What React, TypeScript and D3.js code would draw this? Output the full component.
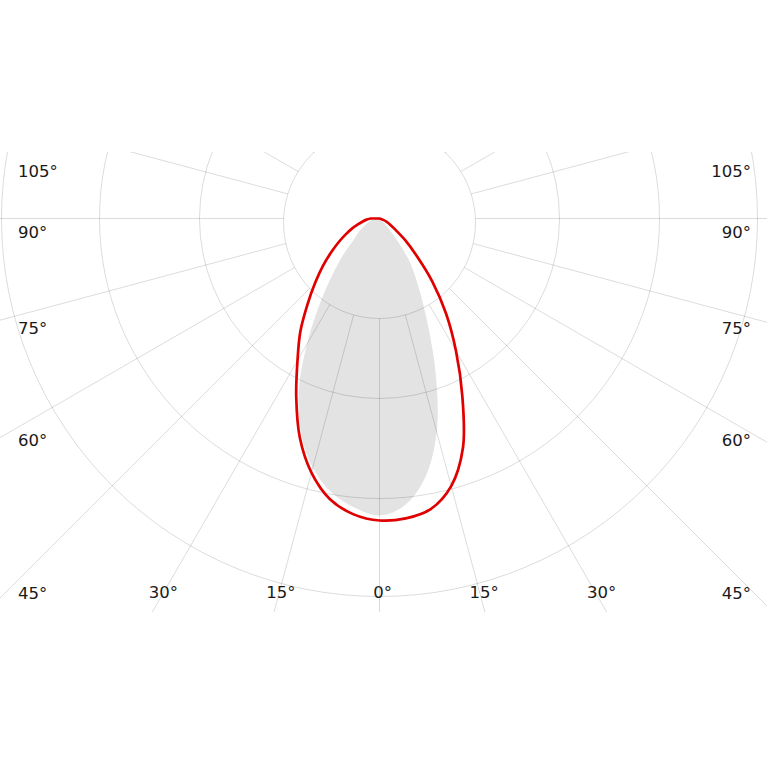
import React from "react";
import * as d3 from "d3";

// Red curve (C90/C270 plane): angle from nadir in degrees (negative = left), intensity
const redAngles = [-90, -85, -80, -75, -70, -65, -60, -55, -50, -45, -40, -35, -30, -25, -20, -15, -10, -5, 0, 5, 10, 15, 20, 25, 30, 35, 40, 45, 50, 55, 60, 65, 70, 75];
const redValues = [9, 13, 17, 22, 29, 37, 47, 59, 74, 91, 112, 138, 164, 197, 233, 263, 285, 297, 302, 301, 295, 277, 244, 196, 153, 116, 82, 52, 33, 19, 12, 8, 4, 0];

// Gray filled curve (C0/C180 plane)
const grayAngles = [-80, -75, -70, -65, -60, -55, -50, -45, -40, -35, -30, -25, -20, -15, -10, -5, 0, 5, 10, 15, 20, 25, 30, 35, 40, 45, 50];
const grayValues = [8, 10, 13, 16, 21, 27, 34, 51, 73, 104, 145, 191, 229, 258, 278, 290, 297, 288, 263, 221, 164, 112, 77, 52, 22, 6, 0];

// Grid
const ringValues = [96, 180, 280, 378];
const spokeAngles = [0, 15, 30, 45, 60, 75, 90, 105, 120, 135, 150, 165, 180, 195, 210, 225, 240, 255, 270, 285, 300, 315, 330, 345];
const sideLabelAngles = [105, 90, 75, 60, 45];
const bottomLabelAngles = [-30, -15, 0, 15, 30];

const W = 767;
const H = 767;
const CX = 379.5;
const CY = 218.5;
const INNER_OFFSET = 4;
const CLIP_TOP = 152;
const CLIP_BOTTOM = 612;

export default function App() {
  const rScale = d3.scaleLinear().domain([0, 380]).range([0, 380]);
  const toRad = (deg: number) => Math.PI - (deg * Math.PI) / 180;

  const red = redAngles.map((a, i) => [toRad(a), rScale(redValues[i])] as [number, number]);
  const gray = grayAngles.map((a, i) => [toRad(a), rScale(grayValues[i])] as [number, number]);

  const radial = d3
    .lineRadial<[number, number]>()
    .angle((d) => d[0])
    .radius((d) => d[1])
    .curve(d3.curveCatmullRom.alpha(0.5));

  const redPath = radial(red) + "Z";
  const grayPath = radial(gray) + "Z";

  const innerR = rScale(ringValues[0]);
  const spokes = spokeAngles.map((deg) => {
    const t = (deg * Math.PI) / 180;
    const ux = Math.sin(t);
    const uy = Math.cos(t);
    const wy = -INNER_OFFSET;
    const b = uy * wy;
    const start = -b + Math.sqrt(b * b - wy * wy + innerR * innerR);
    const end = 1400;
    return {
      x1: CX + ux * start,
      y1: CY + uy * start,
      x2: CX + ux * end,
      y2: CY + uy * end,
    };
  });

  const gridStroke = { stroke: "#000", strokeOpacity: 0.14, strokeWidth: 1, fill: "none" };
  const labelStyle: React.CSSProperties = {
    fontFamily: "'DejaVu Sans', Verdana, sans-serif",
    fontSize: 16.5,
    fill: "#1a1a1a",
  };

  const sideY = (deg: number) => {
    const t = (deg * Math.PI) / 180;
    const y = CY + (CX - 18) / Math.tan(t) + 19;
    return Math.max(177, y);
  };
  const bottomX = (deg: number) => CX + (598 - CY) * Math.tan((deg * Math.PI) / 180) + 3;

  return (
    <svg
      width={W}
      height={H}
      viewBox={`0 0 ${W} ${H}`}
      style={{ position: "fixed", left: 0, top: 0, background: "#fff" }}
    >
      <defs>
        <clipPath id="plotClip">
          <rect x={0} y={CLIP_TOP} width={W} height={CLIP_BOTTOM - CLIP_TOP} />
        </clipPath>
      </defs>
      <rect x={0} y={0} width={W} height={H} fill="#fff" />
      <g clipPath="url(#plotClip)">
        <g transform={`translate(${CX},${CY})`}>
          <path d={grayPath} fill="#e3e3e3" stroke="none" />
        </g>
        {spokes.map((s, i) => (
          <line key={i} x1={s.x1} y1={s.y1} x2={s.x2} y2={s.y2} {...gridStroke} />
        ))}
        <circle cx={CX} cy={CY + INNER_OFFSET} r={innerR} {...gridStroke} />
        {ringValues.slice(1).map((v) => (
          <circle key={v} cx={CX} cy={CY} r={rScale(v)} {...gridStroke} />
        ))}
        <g transform={`translate(${CX},${CY})`}>
          <path d={redPath} fill="none" stroke="#e00000" strokeWidth={2.7} strokeLinejoin="round" />
        </g>
      </g>
      {sideLabelAngles.map((a) => (
        <text key={"l" + a} x={18} y={sideY(a)} style={labelStyle} textAnchor="start">
          {a}°
        </text>
      ))}
      {sideLabelAngles.map((a) => (
        <text key={"r" + a} x={751} y={sideY(a)} style={labelStyle} textAnchor="end">
          {a}°
        </text>
      ))}
      {bottomLabelAngles.map((a) => (
        <text key={"b" + a} x={bottomX(a)} y={598} style={labelStyle} textAnchor="middle">
          {Math.abs(a)}°
        </text>
      ))}
    </svg>
  );
}
